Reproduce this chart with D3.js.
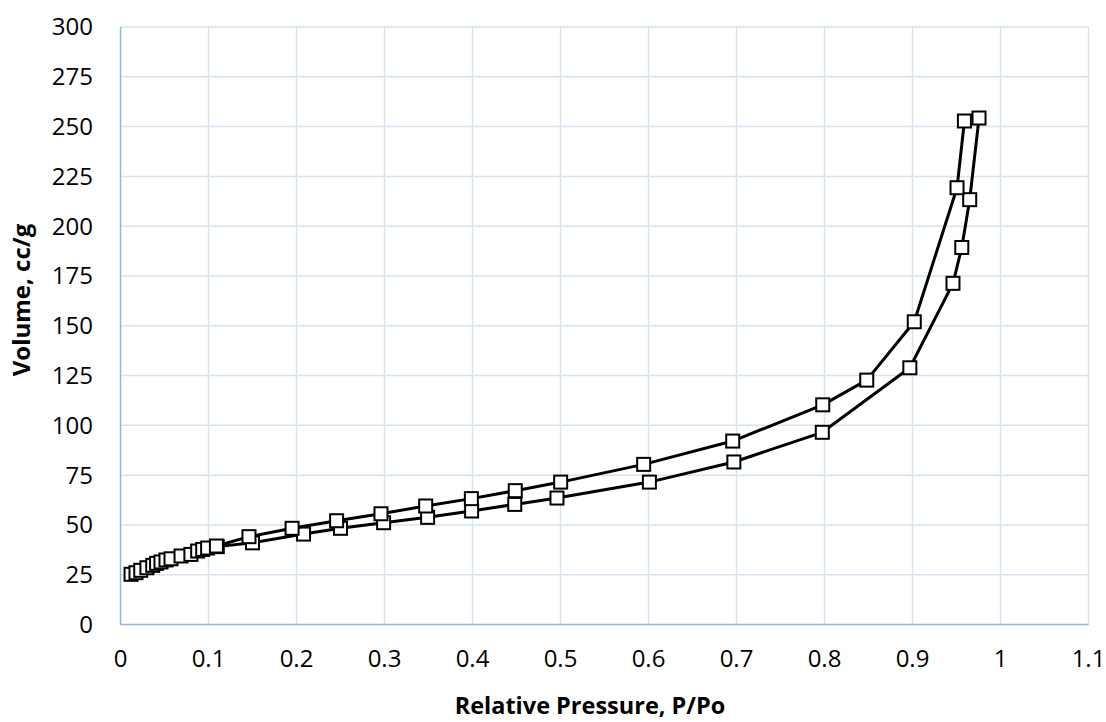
<!DOCTYPE html>
<html><head><meta charset="utf-8">
<script src="https://cdn.jsdelivr.net/npm/d3@7"></script>
<style>body{margin:0;background:#fff}svg{display:block}</style>
</head><body>
<svg id="c" width="1106" height="722"></svg>
<script>
const adsX = [0.012,0.0176,0.023,0.030,0.0366,0.041,0.046,0.0517,0.0574,0.0688,0.080,0.0877,0.0934,0.099,0.110,0.150,0.208,0.250,0.299,0.349,0.399,0.448,0.496,0.601,0.697,0.7975,0.897,0.946,0.956,0.965,0.9756];
const adsY = [25.2,26.0,27.2,28.5,29.7,30.7,31.4,32.4,33.0,34.4,35.2,36.9,37.7,38.4,39.1,41.0,45.4,48.3,51.1,53.8,57.0,60.3,63.5,71.5,81.6,96.5,128.9,171.3,189.3,213.3,254.3];
const desX = [0.959,0.9506,0.902,0.848,0.798,0.6957,0.5945,0.5002,0.4486,0.3987,0.3468,0.296,0.2456,0.195,0.146,0.109];
const desY = [252.8,219.3,152.0,122.7,110.3,92.1,80.4,71.5,67.2,63.2,59.5,55.6,52.1,48.3,44.1,39.4];
const xTicks = [0,0.1,0.2,0.3,0.4,0.5,0.6,0.7,0.8,0.9,1,1.1];
const yTicks = [0,25,50,75,100,125,150,175,200,225,250,275,300];

const svg = d3.select('#c');
const x = d3.scaleLinear().domain([0,1.1]).range([120.5,1088.5]);
const y = d3.scaleLinear().domain([0,300]).range([624.5,27]);
const font = 'Open Sans, Liberation Sans, sans-serif';

// grid
svg.append('g').selectAll('line').data(xTicks.slice(1)).join('line')
  .attr('x1',d=>x(d)).attr('x2',d=>x(d)).attr('y1',y(0)).attr('y2',y(300))
  .attr('stroke','#d5e3f5').attr('stroke-width',1.5);
svg.append('g').selectAll('line').data(yTicks.slice(1)).join('line')
  .attr('x1',x(0)).attr('x2',x(1.1)).attr('y1',d=>y(d)).attr('y2',d=>y(d))
  .attr('stroke','#d5e3f5').attr('stroke-width',1.5);
// axes lines
svg.append('line').attr('x1',x(0)).attr('x2',x(0)).attr('y1',y(0)).attr('y2',y(300)).attr('stroke','#8fb3e2').attr('stroke-width',1.5);
svg.append('line').attr('x1',x(0)).attr('x2',x(1.1)).attr('y1',y(0)).attr('y2',y(0)).attr('stroke','#8fb3e2').attr('stroke-width',1.5);

// tick labels
svg.append('g').selectAll('text').data(yTicks).join('text')
  .attr('x',93).attr('y',d=>y(d)).attr('dy','0.35em').attr('text-anchor','end')
  .attr('font-family',font).attr('font-size',24).attr('fill','#000').text(d=>d);
svg.append('g').selectAll('text').data(xTicks).join('text')
  .attr('x',d=>x(d)).attr('y',y(0)+34).attr('dy','0.35em').attr('text-anchor','middle')
  .attr('font-family',font).attr('font-size',24).attr('fill','#000').text(d=>d);

// titles
svg.append('text').attr('x',590).attr('y',714).attr('text-anchor','middle')
  .attr('font-family',font).attr('font-weight','bold').attr('font-size',23.5).text('Relative Pressure, P/Po');
svg.append('text').attr('transform','translate(30,300) rotate(-90)').attr('text-anchor','middle')
  .attr('font-family',font).attr('font-weight','bold').attr('font-size',24).text('Volume, cc/g');

const line = d3.line().x(d=>x(d[0])).y(d=>y(d[1]));
function series(xs, ys){
  const pts = xs.map((v,i)=>[v, ys[i]]);
  svg.append('path').datum(pts).attr('d',line).attr('fill','none').attr('stroke','#000').attr('stroke-width',3).attr('stroke-linejoin','round');
  svg.append('g').selectAll('rect').data(pts).join('rect')
    .attr('x',d=>x(d[0])-6.5).attr('y',d=>y(d[1])-6.5).attr('width',13).attr('height',13)
    .attr('fill','#fff').attr('stroke','#000').attr('stroke-width',2);
}
series(adsX, adsY);
series(desX, desY);
</script>
</body></html>
